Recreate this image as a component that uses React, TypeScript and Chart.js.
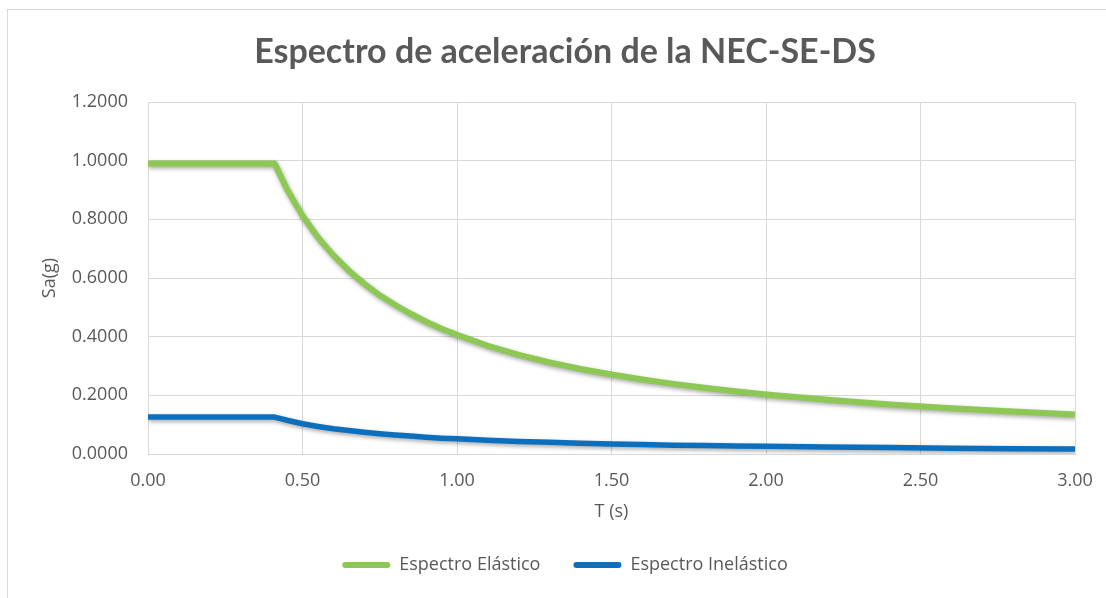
import React, { useEffect, useRef } from "react";
import { Chart, registerables } from "chart.js";

Chart.register(...registerables);

// Period T (s)
const periods: number[] = [
  0, 0.1, 0.2, 0.3, 0.41, 0.45, 0.5, 0.55, 0.6, 0.65, 0.7, 0.75, 0.8, 0.85, 0.9, 0.95,
  1.0, 1.1, 1.2, 1.3, 1.4, 1.5, 1.6, 1.7, 1.8, 1.9, 2.0, 2.2, 2.4, 2.6, 2.8, 3.0,
];

// Sa(g) – elastic spectrum
const elasticSa: number[] = [
  0.99, 0.99, 0.99, 0.99, 0.99, 0.902, 0.812, 0.738, 0.677, 0.625, 0.58, 0.541, 0.508, 0.478, 0.451, 0.427,
  0.406, 0.369, 0.338, 0.312, 0.29, 0.271, 0.254, 0.239, 0.226, 0.214, 0.203, 0.185, 0.169, 0.156, 0.145, 0.135,
];

// Sa(g) – inelastic spectrum
const inelasticSa: number[] = [
  0.126, 0.126, 0.126, 0.126, 0.126, 0.115, 0.103, 0.094, 0.086, 0.08, 0.074, 0.069, 0.065, 0.061, 0.057, 0.054,
  0.052, 0.047, 0.043, 0.04, 0.037, 0.034, 0.032, 0.03, 0.029, 0.027, 0.026, 0.024, 0.022, 0.02, 0.018, 0.017,
];

const seriesNames = ["Espectro Elástico", "Espectro Inelástico"];
const seriesColors = ["#8CC853", "#0B6FBE"];

const chartTitle = "Espectro de aceleración de la NEC-SE-DS";
const xTitle = "T (s)";
const yTitle = "Sa(g)";

const TEXT = "#595959";
const GRID = "#d9d9d9";
const FONT = "'Open Sans', sans-serif";

const W = 1130;
const H = 598;

// soft drop shadow under the series lines
const lineShadow = {
  id: "lineShadow",
  beforeDatasetsDraw(chart: any) {
    const ctx = chart.ctx;
    ctx.save();
    ctx.shadowColor = "rgba(0,0,0,0.35)";
    ctx.shadowBlur = 4;
    ctx.shadowOffsetX = 1;
    ctx.shadowOffsetY = 2;
  },
  afterDatasetsDraw(chart: any) {
    chart.ctx.restore();
  },
};

export default function App() {
  const ref = useRef<HTMLCanvasElement | null>(null);

  useEffect(() => {
    if (!ref.current) return;
    const toPts = (ys: number[]) => periods.map((x, i) => ({ x, y: ys[i] }));
    const chart = new Chart(ref.current, {
      type: "line",
      data: {
        datasets: [
          {
            label: seriesNames[0],
            data: toPts(elasticSa),
            borderColor: seriesColors[0],
            backgroundColor: seriesColors[0],
            borderWidth: 6,
            pointRadius: 0,
            borderJoinStyle: "round",
            tension: 0,
          },
          {
            label: seriesNames[1],
            data: toPts(inelasticSa),
            borderColor: seriesColors[1],
            backgroundColor: seriesColors[1],
            borderWidth: 5.5,
            pointRadius: 0,
            borderJoinStyle: "round",
            tension: 0,
          },
        ],
      },
      options: {
        responsive: false,
        animation: false,
        devicePixelRatio: 1,
        layout: { padding: { left: 0, right: 0, top: 0, bottom: 14 } },
        plugins: {
          tooltip: { enabled: false },
          title: {
            display: true,
            text: chartTitle,
            color: TEXT,
            font: { family: "Lato, sans-serif", size: 34, weight: "bold", lineHeight: 1.2 },
            padding: { top: 31.6, bottom: 29.6 },
          },
          legend: {
            position: "bottom",
            labels: {
              color: TEXT,
              font: { family: FONT, size: 18 },
              boxWidth: 48,
              boxHeight: 6,
              padding: 33,
              useBorderRadius: true,
              borderRadius: 3,
              generateLabels: (c: any) =>
                c.data.datasets.map((d: any, i: number) => ({
                  text: d.label,
                  fillStyle: d.borderColor,
                  strokeStyle: d.borderColor,
                  lineWidth: 0,
                  hidden: false,
                  datasetIndex: i,
                  fontColor: TEXT,
                  borderRadius: 3,
                })),
            },
          },
        },
        scales: {
          x: {
            type: "linear",
            min: 0,
            max: 3,
            afterFit: (s: any) => {
              s.height = 69;
            },
            ticks: {
              stepSize: 0.5,
              color: TEXT,
              font: { family: FONT, size: 18 },
              padding: 16,
              maxRotation: 0,
              callback: (v: any) => Number(v).toFixed(2),
            },
            grid: { color: GRID, drawTicks: false },
            border: { color: GRID },
            title: {
              display: true,
              text: xTitle,
              color: TEXT,
              font: { family: FONT, size: 18 },
              padding: { top: 4, bottom: 0 },
            },
          },
          y: {
            type: "linear",
            min: 0,
            max: 1.2,
            afterFit: (s: any) => {
              s.width = 148;
            },
            ticks: {
              stepSize: 0.2,
              color: TEXT,
              font: { family: FONT, size: 18 },
              padding: 20,
              callback: (v: any) => Number(v).toFixed(4),
            },
            grid: { color: GRID, drawTicks: false },
            border: { color: GRID },
            title: {
              display: true,
              text: yTitle,
              color: TEXT,
              font: { family: FONT, size: 18 },
              padding: { top: 39, bottom: 4 },
            },
          },
          // empty right-hand gutter so title and legend centre on the full chart frame
          gutter: {
            type: "linear",
            position: "right",
            display: true,
            afterFit: (s: any) => {
              s.width = 55;
            },
            ticks: { display: false },
            grid: { display: false },
            border: { display: false },
          },
        },
      } as any,
      plugins: [lineShadow],
    });
    return () => chart.destroy();
  }, []);

  return (
    <div
      style={{
        position: "fixed",
        left: 0,
        top: 0,
        width: 1106,
        height: 598,
        overflow: "hidden",
        background: "#fff",
      }}
    >
      <canvas ref={ref} width={W} height={H} style={{ display: "block", width: W, height: H }} />
      <div
        style={{
          position: "absolute",
          left: 7,
          top: 9,
          width: 1200,
          height: 700,
          borderTop: `1px solid ${GRID}`,
          borderLeft: `1px solid ${GRID}`,
          pointerEvents: "none",
        }}
      />
    </div>
  );
}
